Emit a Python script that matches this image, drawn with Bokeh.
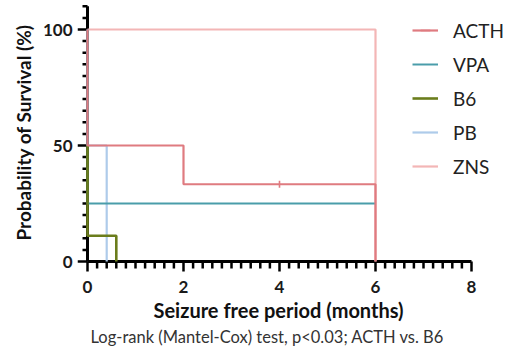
import math
import numpy as np
from bokeh.plotting import figure
from bokeh.models import Range1d, FixedTicker, Legend, LegendItem, Title, ColumnDataSource
from bokeh.embed import file_html
from bokeh.resources import INLINE

# Kaplan-Meier step data (time in months, survival %)
groups = ["ACTH", "VPA", "B6", "PB", "ZNS"]
acth_t = [0, 0, 2, 6]
acth_s = [100, 50, 33.3, 0]
vpa_t = [0, 0, 6]
vpa_s = [100, 25, 25]
b6_t = [0, 0, 0.6]
b6_s = [50, 11.1, 0]
pb_t = [0, 0, 0.4]
pb_s = [100, 50, 0]
zns_t = [0, 6]
zns_s = [100, 0]
# censored observations
acth_cens_t = [4]
acth_cens_s = [33.3]

# axis ticks
x_major = [0, 2, 4, 6, 8]
y_major = [0, 50, 100]
y_axis_top = 110
x_minor_step = 0.2
y_minor_step = 5

colors = {"ACTH": "#DF7B80", "VPA": "#4A9DAA", "B6": "#6B7D1C", "PB": "#AECBEA", "ZNS": "#F3B6B6"}
widths = {"ACTH": 2.2, "VPA": 2, "B6": 2.6, "PB": 2.2, "ZNS": 2.2}

FONT = "Lato"

# pixel geometry of the frame
W, H = 509, 351
F_LEFT, F_RIGHT, F_TOP, F_BOTTOM = 77, 509, 3, 272
X0_PX, Y0_PX = 87, 261          # where the data origin sits
PX_X, PX_Y = 48.0, 2.32         # pixels per month / per percent

x_start = -(X0_PX - F_LEFT) / PX_X
x_end = (F_RIGHT - X0_PX) / PX_X
y_start = -(F_BOTTOM - Y0_PX) / PX_Y
y_end = (Y0_PX - F_TOP) / PX_Y

p = figure(width=W, height=H, output_backend="svg", toolbar_location=None,
           x_range=Range1d(x_start, x_end), y_range=Range1d(y_start, y_end),
           min_border_left=F_LEFT, min_border_right=W - F_RIGHT,
           min_border_top=F_TOP, min_border_bottom=H - F_BOTTOM)
p.outline_line_color = None
p.grid.visible = False

# ---- hand-drawn axis lines and tick marks (filled rects, inside the frame) ----
x_minor = [float(v) for v in np.arange(x_major[0], x_major[-1] + 1e-9, x_minor_step)
           if min(abs(v - m) for m in x_major) > 1e-6]
y_minor = [float(v) for v in np.arange(y_major[0], y_axis_top + 1e-9, y_minor_step)
           if min(abs(v - m) for m in y_major) > 1e-6]
MAJ, MIN_X, MIN_Y = 10, 7, 5      # tick lengths in px
TW = 2.5                          # tick thickness in px
AXW = 3
p.line([x_major[0], x_major[-1]], [0, 0], line_color="black", line_width=AXW)
p.line([0, 0], [y_major[0], y_axis_top], line_color="black", line_width=AXW)
p.rect(x=x_major, y=[-MAJ / 2 / PX_Y] * len(x_major), width=TW, height=MAJ,
       width_units="screen", height_units="screen", fill_color="black", line_color=None)
p.rect(x=x_minor, y=[-MIN_X / 2 / PX_Y] * len(x_minor), width=TW, height=MIN_X,
       width_units="screen", height_units="screen", fill_color="black", line_color=None)
p.rect(x=[-MAJ / 2 / PX_X] * len(y_major), y=y_major, width=MAJ, height=TW,
       width_units="screen", height_units="screen", fill_color="black", line_color=None)
p.rect(x=[-MIN_Y / 2 / PX_X] * len(y_minor), y=y_minor, width=MIN_Y, height=TW,
       width_units="screen", height_units="screen", fill_color="black", line_color=None)

series = {
    "ACTH": (acth_t, acth_s, acth_cens_t, acth_cens_s),
    "VPA": (vpa_t, vpa_s, [], []),
    "B6": (b6_t, b6_s, [], []),
    "PB": (pb_t, pb_s, [], []),
    "ZNS": (zns_t, zns_s, [], []),
}

renderers = {}
for g in ["ZNS", "PB", "VPA", "B6", "ACTH"]:
    t, s, ct, cs = series[g]
    r = p.step(t, s, mode="after", line_color=colors[g], line_width=widths[g])
    c = p.scatter(x="x", y="y", source=ColumnDataSource(dict(x=ct, y=cs)), marker="dash",
                  angle=math.pi / 2, size=7, line_color=colors[g], line_width=1.6)
    renderers[g] = [r, c]

legend = Legend(items=[LegendItem(label=g, renderers=renderers[g]) for g in groups],
                location=(412 - F_LEFT, F_BOTTOM - 178), padding=0, margin=0, spacing=10,
                glyph_width=26, glyph_height=24, label_height=24, label_standoff=15,
                label_text_font=FONT, label_text_font_size="19px", label_text_color="#222222",
                border_line_color=None, background_fill_alpha=0)
p.add_layout(legend, "center")

# ---- Bokeh axes only for tick labels ----
xa = p.xaxis[0]
ya = p.yaxis[0]
xa.ticker = FixedTicker(ticks=x_major)
ya.ticker = FixedTicker(ticks=y_major)
for ax in (xa, ya):
    ax.axis_line_color = None
    ax.major_tick_line_color = None
    ax.minor_tick_line_color = None
    ax.major_tick_out = 0
    ax.major_tick_in = 0
    ax.minor_tick_out = 0
    ax.minor_tick_in = 0
    ax.major_label_text_font = FONT
    ax.major_label_text_font_style = "bold"
    ax.major_label_text_font_size = "17px"
    ax.major_label_text_color = "#1a1a1a"
xa.major_label_standoff = 8
ya.major_label_standoff = 5

ylabel = Title(text="Probability of Survival (%)", align="left", offset=32,
               text_font=FONT, text_font_style="bold", text_font_size="19px",
               text_color="#111111", standoff=10)
p.add_layout(ylabel, "left")

xlabel = Title(text="Seizure free period (months)", align="left", offset=153 - F_LEFT,
               text_font=FONT, text_font_style="bold", text_font_size="20px",
               text_color="#111111", standoff=0)
caption = Title(text="Log-rank (Mantel-Cox) test, p<0.03; ACTH vs. B6", align="left", offset=90 - F_LEFT,
                text_font=FONT, text_font_style="normal", text_font_size="16.5px",
                text_color="#333333", standoff=7)
p.add_layout(xlabel, "below")
p.add_layout(caption, "below")

open("out.html", "w").write(file_html(p, INLINE))
